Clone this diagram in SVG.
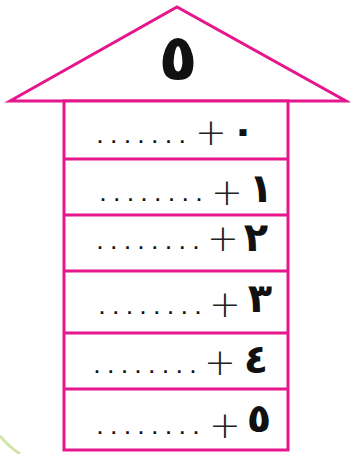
<svg xmlns="http://www.w3.org/2000/svg" width="350" height="454" viewBox="0 0 350 454">
<style>
.ln{stroke:#E6168C;stroke-width:3;fill:#fff}
.dv{stroke:#E6168C;stroke-width:3;fill:none}
.dots{font-family:"Liberation Sans",Arial,sans-serif;font-weight:bold;font-size:18px;letter-spacing:8.7px;fill:#111}
.plus{font-family:"DejaVu Sans",sans-serif;font-weight:200;font-size:38px;fill:#222;text-anchor:middle}
.dg{font-family:"DejaVu Sans",sans-serif;font-weight:bold;font-size:40px;fill:#111;text-anchor:middle}
.top{font-family:"DejaVu Sans",sans-serif;font-weight:bold;font-size:64px;fill:#111;text-anchor:middle}
</style>
<rect width="350" height="454" fill="#fff"/>
<path d="M0,436 Q9,447 20,454" stroke="#cfe6a6" stroke-width="3" fill="none"/>
<g id="roof">
<polygon class="ln" points="10,101 177,7 346,101"/>
<text class="top" x="178" y="80">٥</text>
</g>
<g id="body">
<rect class="ln" x="64" y="101" width="224" height="349"/>
</g>
<g id="dividers">
<line class="dv" x1="64" y1="159" x2="288" y2="159"/>
<line class="dv" x1="64" y1="215" x2="288" y2="215"/>
<line class="dv" x1="64" y1="271" x2="288" y2="271"/>
<line class="dv" x1="64" y1="333" x2="288" y2="333"/>
<line class="dv" x1="64" y1="389" x2="288" y2="389"/>
</g>
<g id="row0">
<text class="dots" x="97.5" y="143">.......</text>
<text class="plus" x="211" y="145">+</text>
<text class="dg" x="243" y="144">٠</text>
</g>
<g id="row1">
<text class="dots" x="100.5" y="201">........</text>
<text class="plus" x="227" y="205">+</text>
<text class="dg" x="261" y="202">١</text>
</g>
<g id="row2">
<text class="dots" x="97.5" y="249">........</text>
<text class="plus" x="223" y="251">+</text>
<text class="dg" x="256" y="251">٢</text>
</g>
<g id="row3">
<text class="dots" x="99.5" y="314">........</text>
<text class="plus" x="225" y="317">+</text>
<text class="dg" x="260" y="312">٣</text>
</g>
<g id="row4">
<text class="dots" x="94.5" y="373">........</text>
<text class="plus" x="220" y="375">+</text>
<text class="dg" x="256" y="373">٤</text>
</g>
<g id="row5">
<text class="dots" x="97.5" y="434">........</text>
<text class="plus" x="225" y="438">+</text>
<text class="dg" x="259" y="432">٥</text>
</g>
</svg>
